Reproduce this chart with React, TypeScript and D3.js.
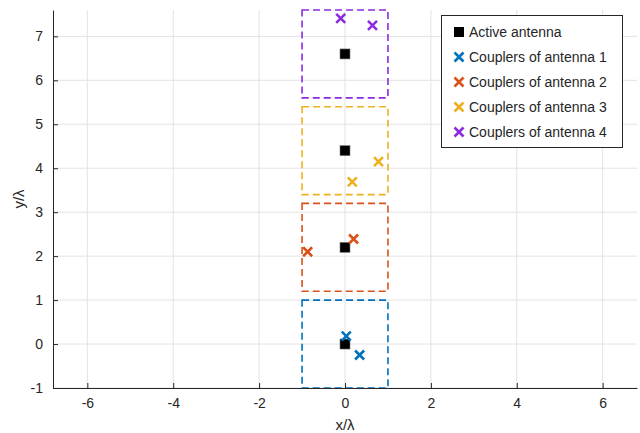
import React, { useRef, useEffect } from "react";
import * as d3 from "d3";

// antenna positions (in wavelengths)
const activeX = [0, 0, 0, 0];
const activeY = [0, 2.2, 4.4, 6.6];

const coupler1 = [[0.03, 0.18], [0.34, -0.25]];
const coupler2 = [[-0.87, 2.1], [0.2, 2.39]];
const coupler3 = [[0.78, 4.15], [0.17, 3.69]];
const coupler4 = [[-0.1, 7.41], [0.64, 7.25]];

// region bounds for each antenna: [xmin, xmax, ymin, ymax]
const regions = [
  [-1, 1, -1, 1],
  [-1, 1, 1.2, 3.2],
  [-1, 1, 3.4, 5.4],
  [-1, 1, 5.6, 7.6],
];

const seriesNames = [
  "Active antenna",
  "Couplers of antenna 1",
  "Couplers of antenna 2",
  "Couplers of antenna 3",
  "Couplers of antenna 4",
];
const colors = ["#0072bd", "#d95319", "#edb120", "#8a2be2"];

const xTicks = [-6, -4, -2, 0, 2, 4, 6];
const yTicks = [-1, 0, 1, 2, 3, 4, 5, 6, 7];

const width = 640;
const height = 433;
const margin = { left: 53, right: 3, top: 10, bottom: 45 };
const font = "'Liberation Sans', Arial, sans-serif";
const textColor = "#262626";

export default function App() {
  const ref = useRef<SVGSVGElement>(null);

  useEffect(() => {
    const svg = d3.select(ref.current);
    svg.selectAll("*").remove();

    const x = d3.scaleLinear().domain([-6.8, 6.8]).range([margin.left, width - margin.right]);
    const y = d3.scaleLinear().domain([-1, 7.6]).range([height - margin.bottom, margin.top]);

    const g = svg.append("g");

    // grid
    g.selectAll(".gx")
      .data(xTicks)
      .enter()
      .append("line")
      .attr("x1", (d) => x(d))
      .attr("x2", (d) => x(d))
      .attr("y1", y(-1))
      .attr("y2", y(7.6))
      .attr("stroke", "#e3e3e3")
      .attr("stroke-width", 1);
    g.selectAll(".gy")
      .data(yTicks)
      .enter()
      .append("line")
      .attr("x1", x(-6.8))
      .attr("x2", x(6.8))
      .attr("y1", (d) => y(d))
      .attr("y2", (d) => y(d))
      .attr("stroke", "#e3e3e3")
      .attr("stroke-width", 1);

    // dashed regions
    regions.forEach((r, i) => {
      g.append("rect")
        .attr("x", x(r[0]))
        .attr("y", y(r[3]))
        .attr("width", x(r[1]) - x(r[0]))
        .attr("height", y(r[2]) - y(r[3]))
        .attr("fill", "none")
        .attr("stroke", colors[i])
        .attr("stroke-width", 1.6)
        .attr("stroke-dasharray", "7,4");
    });

    // axes (plain hyphen for negatives, like the original)
    const fmt = (d: any) => String(d);
    const xAxis = g
      .append("g")
      .attr("transform", `translate(0,${y(-1)})`)
      .call(d3.axisBottom(x).tickValues(xTicks).tickFormat(fmt).tickSizeInner(-5).tickSizeOuter(0).tickPadding(10));
    const yAxis = g
      .append("g")
      .attr("transform", `translate(${x(-6.8)},0)`)
      .call(d3.axisLeft(y).tickValues(yTicks).tickFormat(fmt).tickSizeInner(-5).tickSizeOuter(0).tickPadding(10));
    [xAxis, yAxis].forEach((a) => {
      a.select(".domain").attr("stroke", textColor);
      a.selectAll(".tick line").attr("stroke", textColor);
      a.selectAll("text")
        .attr("fill", textColor)
        .style("font-family", font)
        .style("font-size", "14px");
    });

    // active antennas
    const sq = 10;
    g.selectAll(".active")
      .data(activeX.map((v, i) => [v, activeY[i]]))
      .enter()
      .append("rect")
      .attr("x", (d) => x(d[0]) - sq / 2)
      .attr("y", (d) => y(d[1]) - sq / 2)
      .attr("width", sq)
      .attr("height", sq)
      .attr("fill", "#000")
      .attr("stroke", "#777")
      .attr("stroke-width", 0.6);

    const cross = (sel: any, cx: number, cy: number, color: string) => {
      const s = 4.5;
      sel
        .append("path")
        .attr("d", `M${cx - s},${cy - s}L${cx + s},${cy + s}M${cx - s},${cy + s}L${cx + s},${cy - s}`)
        .attr("stroke", color)
        .attr("stroke-width", 2.6)
        .attr("fill", "none");
    };

    [coupler1, coupler2, coupler3, coupler4].forEach((pts, i) => {
      pts.forEach((p) => cross(g, x(p[0]), y(p[1]), colors[i]));
    });

    // axis labels
    g.append("text")
      .attr("x", x(0))
      .attr("y", 430)
      .attr("text-anchor", "middle")
      .attr("fill", textColor)
      .style("font-family", font)
      .style("font-size", "15px")
      .text("x/λ");
    g.append("text")
      .attr("transform", `translate(24,${(y(-1) + y(7.6)) / 2}) rotate(-90)`)
      .attr("text-anchor", "middle")
      .attr("fill", textColor)
      .style("font-family", font)
      .style("font-size", "15px")
      .text("y/λ");

    // legend
    const lg = g.append("g");
    lg.append("rect")
      .attr("x", 441.5)
      .attr("y", 15.5)
      .attr("width", 181)
      .attr("height", 132)
      .attr("fill", "#fff")
      .attr("stroke", textColor)
      .attr("stroke-width", 1);
    seriesNames.forEach((name, i) => {
      const ly = 32 + i * 25;
      if (i === 0) {
        lg.append("rect")
          .attr("x", 459 - 5)
          .attr("y", ly - 5)
          .attr("width", 10)
          .attr("height", 10)
          .attr("fill", "#000");
      } else {
        cross(lg, 459, ly, colors[i - 1]);
      }
      lg.append("text")
        .attr("x", 469)
        .attr("y", ly + 5)
        .attr("fill", textColor)
        .style("font-family", font)
        .style("font-size", "14px")
        .text(name);
    });
  }, []);

  return (
    <svg ref={ref} width={width} height={height} style={{ position: "absolute", left: 0, top: 0 }} />
  );
}
